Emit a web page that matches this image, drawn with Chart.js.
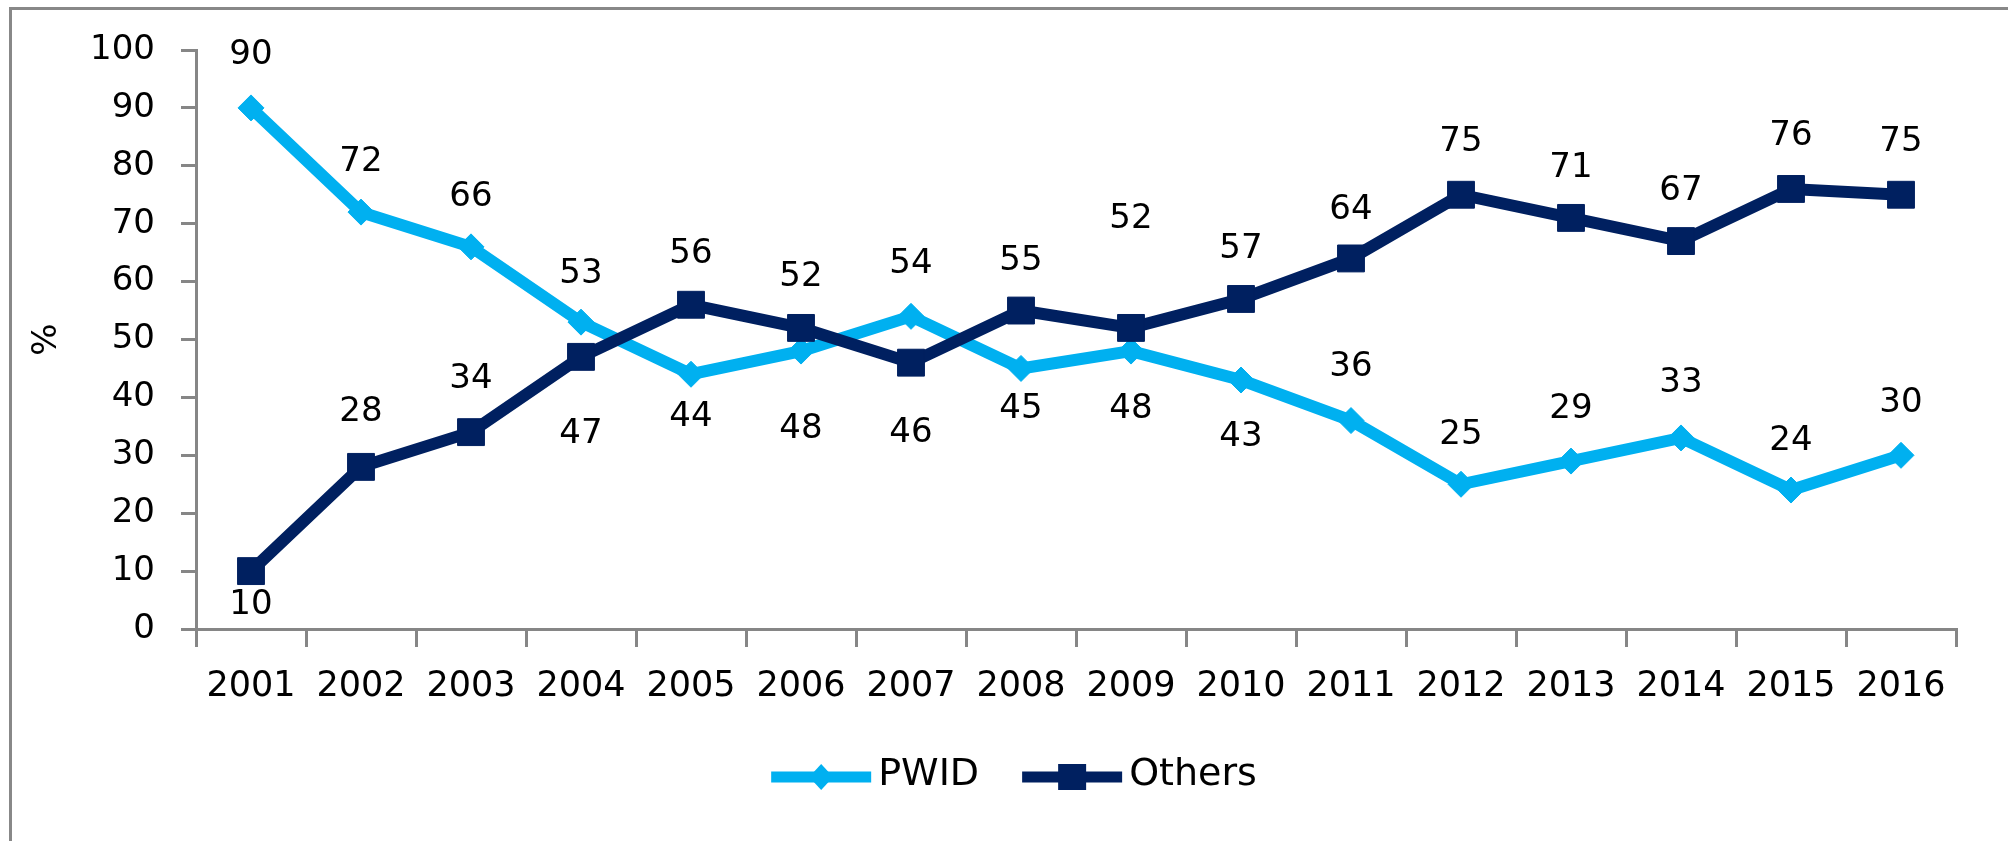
<!DOCTYPE html>
<html>
<head>
<meta charset="utf-8">
<script src="https://cdn.jsdelivr.net/npm/chart.js@4.4.1/dist/chart.umd.min.js"></script>
<style>
  html, body { margin: 0; padding: 0; background: #fff; overflow: hidden; }
  #frame { position: absolute; left: 9px; top: 7px; width: 2100px; height: 900px;
           border-left: 3px solid #888; border-top: 3px solid #888; }
  canvas { position: absolute; left: 0; top: 0; }
</style>
</head>
<body>
<div id="frame"></div>
<canvas id="trendChart" width="2008" height="841"></canvas>
<script>
const years = ['2001', '2002', '2003', '2004', '2005', '2006', '2007', '2008',
               '2009', '2010', '2011', '2012', '2013', '2014', '2015', '2016'];
const pwid = [90, 72, 66, 53, 44, 48, 54, 45, 48, 43, 36, 25, 29, 33, 24, 30];
const others = [10, 28, 34, 47, 56, 52, 46, 55, 52, 57, 64, 75, 71, 67, 76, 75];

// value labels were moved around by hand in the original, px from the point
const pwidLabelShift = [-53, -50, -50, -48, 43, 78, -52, 41, 58, 57, -53, -49, -52, -55, -49, -52];
const othersLabelShift = [34, -55, -53, 77, -51, -51, 71, -49, -109, -50, -48, -53, -50, -50, -53, -53];

const PWID_COLOR = '#00B0F0';
const OTHERS_COLOR = '#002060';
const AXIS_COLOR = '#868686';

Chart.defaults.font.family = '"DejaVu Sans", Verdana, sans-serif';
Chart.defaults.color = '#000';

//Plugin to write the value next to each point
const valueLabels = {
  id: 'valueLabels',
  afterDatasetsDraw(chart) {
    const ctx = chart.ctx;
    ctx.save();
    ctx.font = '34px "DejaVu Sans"';
    ctx.fillStyle = '#000';
    ctx.textAlign = 'center';
    ctx.textBaseline = 'middle';
    chart.data.datasets.forEach((ds, i) => {
      const meta = chart.getDatasetMeta(i);
      meta.data.forEach((pt, j) => {
        ctx.fillText(String(ds.data[j]), pt.x, pt.y + ds.labelShift[j]);
      });
    });
    ctx.restore();
  }
};

//Plugin for the legend (line + marker, like Excel)
const lineLegend = {
  id: 'lineLegend',
  afterDraw(chart) {
    const ctx = chart.ctx;
    const y = chart.height - 64;
    const lineLen = 100, textGap = 7, itemGap = 43;
    ctx.save();
    ctx.font = '38px "DejaVu Sans"';
    ctx.textBaseline = 'middle';
    ctx.textAlign = 'left';

    const items = [
      { text: 'PWID', color: PWID_COLOR, shape: 'diamond' },
      { text: 'Others', color: OTHERS_COLOR, shape: 'square' }
    ];
    let total = 0;
    items.forEach((it, i) => {
      it.w = ctx.measureText(it.text).width;
      total += lineLen + textGap + it.w + (i ? itemGap : 0);
    });
    let x = chart.width / 2 + 10 - total / 2;

    items.forEach((it) => {
      ctx.strokeStyle = it.color;
      ctx.fillStyle = it.color;
      ctx.lineWidth = 11;
      ctx.beginPath();
      ctx.moveTo(x, y);
      ctx.lineTo(x + lineLen, y);
      ctx.stroke();
      const cx = x + lineLen / 2;
      ctx.beginPath();
      if (it.shape === 'diamond') {
        ctx.moveTo(cx, y - 13);
        ctx.lineTo(cx + 12, y);
        ctx.lineTo(cx, y + 13);
        ctx.lineTo(cx - 12, y);
        ctx.closePath();
      } else {
        ctx.rect(cx - 14, y - 13, 28, 26);
      }
      ctx.fill();
      ctx.fillStyle = '#000';
      ctx.fillText(it.text, x + lineLen + textGap, y - 2);
      x += lineLen + textGap + it.w + itemGap;
    });
    ctx.restore();
  }
};

window.addEventListener('DOMContentLoaded', function () {
  const ctx = document.getElementById('trendChart').getContext('2d');

  new Chart(ctx, {
    type: 'line',
    data: {
      labels: years,
      datasets: [
        {
          label: 'PWID',
          data: pwid,
          labelShift: pwidLabelShift,
          borderColor: PWID_COLOR,
          backgroundColor: PWID_COLOR,
          borderWidth: 12,
          tension: 0,
          pointStyle: 'rectRot',
          pointRadius: 13,
          pointBorderWidth: 1,
          pointBorderColor: PWID_COLOR,
          pointBackgroundColor: PWID_COLOR,
          order: 1
        },
        {
          label: 'Others',
          data: others,
          labelShift: othersLabelShift,
          borderColor: OTHERS_COLOR,
          backgroundColor: OTHERS_COLOR,
          borderWidth: 12,
          tension: 0,
          pointStyle: 'rect',
          pointRadius: 19,
          pointBorderWidth: 1,
          pointBorderColor: OTHERS_COLOR,
          pointBackgroundColor: OTHERS_COLOR,
          order: 0
        }
      ]
    },
    options: {
      responsive: false,
      devicePixelRatio: 1,
      animation: false,
      events: [],
      layout: {
        padding: { top: 50, right: 52, bottom: 112, left: 0 }
      },
      plugins: {
        legend: { display: false },
        tooltip: { enabled: false }
      },
      scales: {
        x: {
          offset: true,
          ticks: {
            color: '#000',
            font: { size: 35, lineHeight: 1 },
            padding: 22,
            maxRotation: 0,
            autoSkip: false
          },
          grid: {
            offset: true,
            drawOnChartArea: false,
            tickLength: 18,
            color: AXIS_COLOR,
            lineWidth: 3
          },
          border: { color: AXIS_COLOR, width: 3 },
          afterFit: (s) => { s.height = 100; }
        },
        y: {
          min: 0,
          max: 100,
          ticks: {
            stepSize: 10,
            color: '#000',
            font: { size: 34 },
            padding: 26
          },
          grid: {
            drawOnChartArea: false,
            tickLength: 15,
            color: AXIS_COLOR,
            lineWidth: 3
          },
          border: { color: AXIS_COLOR, width: 3 },
          title: {
            display: true,
            text: '%',
            color: '#000',
            font: { size: 34, lineHeight: 1 },
            padding: { top: 30, bottom: 0 }
          },
          afterFit: (s) => { s.width = 196; }
        }
      }
    },
    plugins: [valueLabels, lineLegend]
  });
});
</script>
</body>
</html>
